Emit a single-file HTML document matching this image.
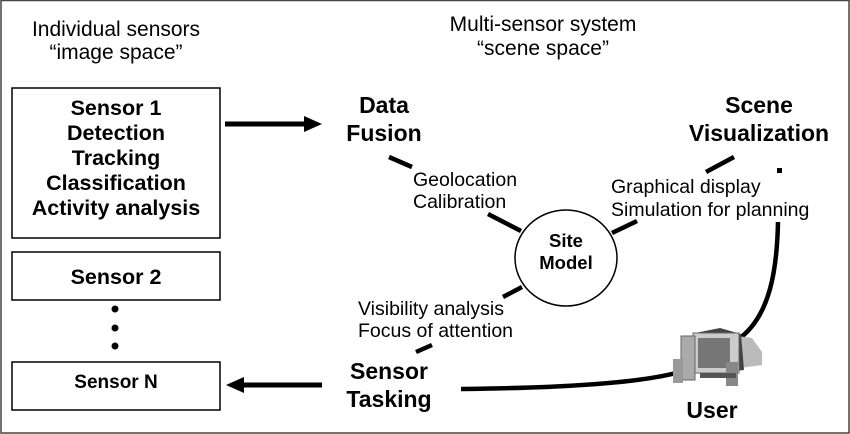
<!DOCTYPE html>
<html><head><style>
body{margin:0;background:#fff;}
svg{display:block;}
text{font-family:"Liberation Sans",Arial,sans-serif;fill:#000;}
.b{font-weight:bold;}
</style></head><body>
<svg width="850" height="434" viewBox="0 0 850 434">
<rect x="1" y="0.5" width="848" height="432.5" fill="none" stroke="#444" stroke-width="1.5"/>
<text x="116" y="36" font-size="21" text-anchor="middle">Individual sensors</text>
<text x="116" y="59" font-size="21" text-anchor="middle">“image space”</text>
<text x="543" y="31" font-size="21" text-anchor="middle">Multi-sensor system</text>
<text x="543" y="55" font-size="21" text-anchor="middle">“scene space”</text>
<rect x="12" y="88" width="208" height="150" fill="none" stroke="#000" stroke-width="1.5"/>
<g font-size="21.5" text-anchor="middle">
<text x="116" y="115" class="b">Sensor 1</text>
<text x="116" y="140" class="b">Detection</text>
<text x="116" y="165" class="b">Tracking</text>
<text x="116" y="190" class="b">Classification</text>
<text x="116" y="215" class="b">Activity analysis</text>
</g>
<rect x="12" y="252" width="208" height="48" fill="none" stroke="#000" stroke-width="1.5"/>
<text x="116" y="284" font-size="21.5" text-anchor="middle" class="b">Sensor 2</text>
<circle cx="115" cy="309" r="3.5"/><circle cx="115" cy="328" r="3.5"/><circle cx="115" cy="346" r="3.5"/>
<rect x="12" y="362" width="208" height="48" fill="none" stroke="#000" stroke-width="1.5"/>
<text x="116" y="388" font-size="19" text-anchor="middle" class="b">Sensor N</text>
<line x1="225" y1="124" x2="306" y2="124" stroke="#000" stroke-width="5"/>
<polygon points="304,116 322,124 304,132"/>
<line x1="244" y1="385" x2="322" y2="385" stroke="#000" stroke-width="5"/>
<polygon points="244,377 226,385 244,393"/>
<g font-size="23" text-anchor="middle" class="b">
<text x="384" y="113" class="b">Data</text>
<text x="384" y="141" class="b">Fusion</text>
<text x="759" y="113" class="b">Scene</text>
<text x="759" y="141" class="b">Visualization</text>
<text x="389" y="379" class="b">Sensor</text>
<text x="389" y="407" class="b">Tasking</text>
<text x="712" y="418" class="b">User</text>
</g>
<g font-size="19.5">
<text x="413" y="186">Geolocation</text>
<text x="413" y="208">Calibration</text>
<text x="611" y="193">Graphical display</text>
<text x="611" y="216">Simulation for planning</text>
<text x="358" y="315">Visibility analysis</text>
<text x="358" y="337">Focus of attention</text>
</g>
<ellipse cx="566" cy="258" rx="51" ry="48" fill="#fff" stroke="#000" stroke-width="1.5"/>
<text x="566" y="247" font-size="18.5" text-anchor="middle" class="b">Site</text>
<text x="566" y="269" font-size="18.5" text-anchor="middle" class="b">Model</text>
<g stroke="#000" stroke-width="4.5" fill="none" stroke-linecap="butt">
<line x1="389" y1="157" x2="412" y2="167"/>
<line x1="488" y1="214" x2="521" y2="231"/>
<line x1="503" y1="297" x2="522" y2="287"/>
<line x1="416" y1="352" x2="432" y2="345"/>
<line x1="706" y1="172" x2="734" y2="157"/>
<line x1="612" y1="233" x2="637" y2="221"/>
<path d="M461 389 C560 388 640 383 680 372"/>
<path d="M778 222 C777 270 770 315 740 338"/>
</g>
<rect x="777" y="168" width="5" height="5"/>
<!-- computer -->
<g>
<polygon points="731,335 752,338 762,352 762,365 740,368" fill="#bbb"/>
<polygon points="695,333 720,328 741,334 744,370 700,375" fill="#444"/>
<rect x="693" y="333" width="46" height="40" fill="#ccc" stroke="#666"/>
<rect x="698" y="338" width="32" height="30" fill="#777"/>
<rect x="681" y="336" width="14" height="44" fill="#aaa" stroke="#666"/>
<rect x="673" y="359" width="10" height="24" fill="#999"/>
<rect x="726" y="362" width="12" height="24" fill="#888"/>
<rect x="700" y="373" width="36" height="5" fill="#555"/>
</g>
</svg>
</body></html>
